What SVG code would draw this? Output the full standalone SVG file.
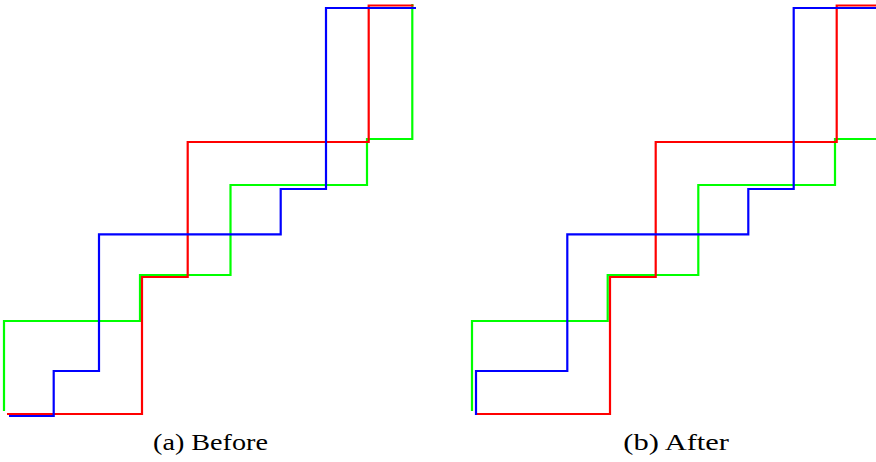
<svg xmlns="http://www.w3.org/2000/svg" width="876" height="462" viewBox="0 0 876 462">
<style>
.l{fill:none;stroke-width:2.2;stroke-linejoin:miter;stroke-linecap:butt}
.g{stroke:#00ff00}
.r{stroke:#ff0000}
.b{stroke:#0000ff}
.cap{font-family:"Liberation Serif",serif;font-size:23.5px;fill:#000}
</style>
<rect width="876" height="462" fill="#fff"/>
<g id="panel-a">
<path class="l g" d="M4,411 V321 H140 V275 H230.5 V185 H367 V139 H412.3 V4"/>
<path class="l r" d="M7,414 H142 V277 H187.7 V142 H368.7 V5.5 H413.5"/>
<path class="l b" d="M9,416 H53.7 V371 H99 V234.3 H280.7 V189 H326 V8 H416"/>
</g>
<g id="panel-b">
<path class="l g" d="M472,411 V321 H607.7 V275 H698.3 V185 H835 V139 H880"/>
<path class="l r" d="M475,414 H610 V277 H655.7 V142 H836.7 V5.5 H880"/>
<path class="l b" d="M476,415 V371 H567.3 V234.3 H748.3 V189 H793.7 V8 H880"/>
</g>
<g id="captions">
<text class="cap" x="153" y="450" textLength="115" lengthAdjust="spacingAndGlyphs">(a) Before</text>
<text class="cap" x="623.3" y="450" textLength="105.7" lengthAdjust="spacingAndGlyphs">(b) After</text>
</g>
</svg>
